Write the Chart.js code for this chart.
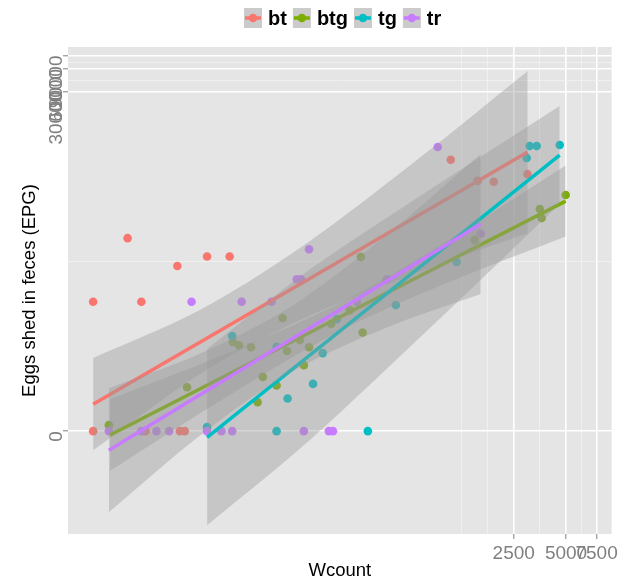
<!DOCTYPE html>
<html>
<head>
<meta charset="utf-8">
<script src="https://cdn.jsdelivr.net/npm/chart.js@4.4.1/dist/chart.umd.min.js"></script>
<style>
  html, body { margin: 0; padding: 0; background: #fff; }
  #wrap { width: 621px; height: 582px; }
</style>
</head>
<body>
<div id="wrap"><canvas id="myChart" width="621" height="582"></canvas></div>
<script>
// both axes use log10(v + 1)
const logp = v => Math.log10(v + 1);

const groups = ['bt', 'btg', 'tg', 'tr'];
const colors = ['#F8766D', '#7CAE00', '#00BFC4', '#C77CFF'];

// raw points (Wcount, EPG)
const btW = [8.5, 8.5, 14, 17, 18, 28, 29, 31, 42, 57, 1085, 1550, 1920, 3000];
const btE = [50, 0, 350, 50, 0, 150, 0, 0, 200, 200, 3800, 2000, 1950, 2450];
const btgW = [10.7, 32, 59.5, 64.5, 76, 83, 89, 107, 116, 123, 146, 154, 165, 222, 284, 329, 337, 1490, 3530, 3620, 4980];
const btgE = [0.2, 2.8, 14, 12.6, 11.8, 1.4, 4.2, 3, 30, 10.4, 15, 6.4, 11.8, 25, 38.5, 197, 19, 330, 850, 645, 1300];
const tgW = [42, 59, 107, 107, 124, 174, 198, 239, 361, 523, 1174, 2970, 3090, 3390, 4600];
const tgE = [0.13, 17, 12, 0, 1.7, 3.2, 9.7, 29, 0, 45, 169, 4000, 5760, 5760, 5940];
const trW = [10.7, 17, 21, 25, 34, 42, 51, 59, 67, 100, 140, 148, 165, 154, 215, 227, 312, 464, 913, 1614];
const trE = [0, 0, 0, 0, 50, 0, 0, 0, 50, 50, 100, 100, 250, 0, 0, 0, 50, 100, 5600, 400];

// lm fit lines (ends)
const btFitW = [8.5, 3009], btFitE = [1.27, 4800];
const btgFitW = [10.9, 4976], btgFitE = [-0.11, 1082];
const tgFitW = [42, 4597], tgFitE = [-0.17, 4381];
const trFitW = [10.7, 1614], trFitE = [-0.44, 537];

// confidence bands
const btBandW = [8.5, 38, 146, 719, 3009];
const btBandHi = [8.2, 38.5, 259, 4035, 56200];
const btBandLo = [-0.44, 4.65, 28.2, 126, 409];
const btgBandW = [10.9, 50, 249, 1070, 4976];
const btgBandHi = [1.64, 8.7, 47.9, 337, 3185];
const btgBandLo = [-0.70, 1.5, 19.9, 92.3, 367];
const tgBandW = [42, 146, 630, 1818, 4597];
const tgBandHi = [11.1, 108, 1025, 4947, 19420];
const tgBandLo = [-0.9425, -0.416, 11.9, 128, 988];
const trBandW = [10.7, 38, 128, 483, 1614];
const trBandHi = [2.69, 9.47, 42.3, 417, 4516];
const trBandLo = [-0.915, -0.133, 4.83, 23.1, 63.2];

// axis breaks and limits
const xBreaks = [2500, 5000, 7500];
const yBreaks = [0, 30000, 60000, 90000];
const xLimits = [5.81, 9153];
const yLimits = [-0.956, 116600];

const points = [[btW, btE], [btgW, btgE], [tgW, tgE], [trW, trE]];
const fits = [[btFitW, btFitE], [btgFitW, btgFitE], [tgFitW, tgFitE], [trFitW, trFitE]];
const bands = [
  [btBandW, btBandHi, btBandLo],
  [btgBandW, btgBandHi, btgBandLo],
  [tgBandW, tgBandHi, tgBandLo],
  [trBandW, trBandHi, trBandLo]
];

function xy(ws, es) {
  return ws.map((w, i) => ({ x: logp(w), y: logp(es[i]) }));
}

const datasets = [];
let seq = 0;
points.forEach((p, g) => {
  datasets.push({
    label: groups[g], data: xy(p[0], p[1]), showLine: false,
    pointRadius: 4.3, pointBorderWidth: 0, backgroundColor: colors[g],
    order: 100 - (seq++)
  });
});
groups.forEach((name, g) => {
  const b = bands[g];
  datasets.push({
    label: name + ' band', data: xy(b[0], b[1]), showLine: true,
    borderWidth: 0, pointRadius: 0, cubicInterpolationMode: 'monotone',
    fill: '+1', backgroundColor: 'rgba(153,153,153,0.4)',
    order: 100 - (seq++)
  });
  datasets.push({
    label: name + ' band lo', data: xy(b[0], b[2]), showLine: true,
    borderWidth: 0, pointRadius: 0, cubicInterpolationMode: 'monotone',
    fill: false, order: 100 - (seq++)
  });
  datasets.push({
    label: name + ' fit', data: xy(fits[g][0], fits[g][1]), showLine: true,
    borderWidth: 3.5, borderColor: colors[g], pointRadius: 0, fill: false,
    order: 100 - (seq++)
  });
});

// ggplot-style minor breaks: midpoints between majors (in transformed space)
function minorBreaks(major, lo, hi) {
  const bd = major[1] - major[0];
  const b = major.slice();
  if (lo < b[0]) b.unshift(b[0] - bd);
  if (hi > b[b.length - 1]) b.push(b[b.length - 1] + bd);
  const out = b.filter(v => !major.includes(v));
  for (let i = 0; i < b.length - 1; i++) out.push((b[i] + b[i + 1]) / 2);
  return out.filter(v => v >= lo && v <= hi);
}

function tickSetup(breaks, limits) {
  const lo = logp(limits[0]), hi = logp(limits[1]);
  const major = breaks.map(logp).filter(v => v >= lo && v <= hi);
  const minor = minorBreaks(major, lo, hi);
  const isMajor = v => major.some(m => Math.abs(m - v) < 1e-9);
  return { lo, hi, major, minor, isMajor };
}

const xt = tickSetup(xBreaks, xLimits);
const yt = tickSetup(yBreaks, yLimits);
const FONT = '"Liberation Sans", Arial, sans-serif';

function gridOpts(t) {
  return {
    color: c => t.isMajor(c.tick.value) ? '#FFFFFF' : '#F2F2F2',
    lineWidth: c => t.isMajor(c.tick.value) ? 1.6 : 0.8,
    tickColor: c => t.isMajor(c.tick.value) ? '#7F7F7F' : 'rgba(0,0,0,0)',
    tickWidth: 1,
    tickLength: 5,
    drawTicks: true
  };
}

const panelBg = {
  id: 'panelBg',
  beforeDraw(chart) {
    const a = chart.chartArea, c = chart.ctx;
    c.save();
    c.fillStyle = '#E5E5E5';
    c.fillRect(a.left, a.top, a.right - a.left, a.bottom - a.top);
    c.restore();
  }
};

// rotated y labels and legend on top
const extras = {
  id: 'extras',
  afterDraw(chart) {
    const c = chart.ctx, ys = chart.scales.y;
    c.save();
    c.font = '19px ' + FONT;
    c.fillStyle = '#7F7F7F';
    c.textAlign = 'right';
    c.textBaseline = 'alphabetic';
    yBreaks.forEach(v => {
      const py = ys.getPixelForValue(logp(v));
      c.save();
      c.translate(62, py);
      c.rotate(-Math.PI / 2);
      c.fillText(String(v), 0, 0);
      c.restore();
    });

    c.font = 'bold 20px ' + FONT;
    c.textAlign = 'left';
    c.textBaseline = 'middle';
    let x = 244;
    const cy = 18;
    groups.forEach((name, g) => {
      c.fillStyle = '#CBCBCB';
      c.fillRect(x, cy - 10, 18, 20);
      c.strokeStyle = colors[g];
      c.lineWidth = 3.5;
      c.beginPath();
      c.moveTo(x + 1, cy);
      c.lineTo(x + 17, cy);
      c.stroke();
      c.fillStyle = colors[g];
      c.beginPath();
      c.arc(x + 9, cy, 4.3, 0, Math.PI * 2);
      c.fill();
      c.fillStyle = '#000000';
      c.fillText(name, x + 24, cy + 1);
      x += 24 + c.measureText(name).width + 6;
    });
    c.restore();
  }
};

const ctx = document.getElementById('myChart').getContext('2d');
new Chart(ctx, {
  type: 'scatter',
  data: { datasets: datasets },
  options: {
    responsive: false,
    animation: false,
    devicePixelRatio: 1,
    layout: { padding: { left: 0, right: 9, top: 47, bottom: 0 } },
    plugins: { legend: { display: false }, tooltip: { enabled: false } },
    scales: {
      x: {
        type: 'linear', min: xt.lo, max: xt.hi,
        afterBuildTicks: s => {
          s.ticks = xt.major.concat(xt.minor).sort((a, b) => a - b).map(v => ({ value: v }));
        },
        afterFit: s => { s.height = 48; },
        grid: gridOpts(xt),
        border: { display: false },
        ticks: {
          autoSkip: false, maxRotation: 0, minRotation: 0, padding: 3,
          color: '#7F7F7F', font: { size: 19, family: FONT },
          callback: v => {
            const i = xt.major.findIndex(m => Math.abs(m - v) < 1e-9);
            return i >= 0 ? String(xBreaks[i]) : '';
          }
        },
        title: {
          display: true, text: 'Wcount', color: '#000000',
          font: { size: 18.5, family: FONT }, padding: { top: 0, bottom: 0 }
        }
      },
      y: {
        type: 'linear', min: yt.lo, max: yt.hi,
        afterBuildTicks: s => {
          s.ticks = yt.major.concat(yt.minor).sort((a, b) => a - b).map(v => ({ value: v }));
        },
        afterFit: s => { s.width = 68; },
        grid: gridOpts(yt),
        border: { display: false },
        ticks: { display: false },
        title: {
          display: true, text: 'Eggs shed in feces (EPG)', color: '#000000',
          font: { size: 18.5, family: FONT }, padding: { top: 19, bottom: 0 }
        }
      }
    }
  },
  plugins: [panelBg, extras]
});
</script>
</body>
</html>
